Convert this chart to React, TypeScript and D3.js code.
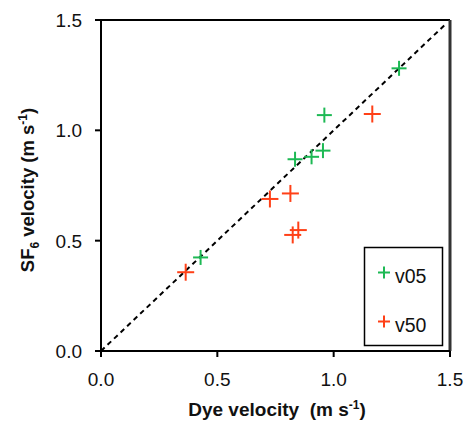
import React from "react";
import * as d3 from "d3";

const v05X = [0.428, 0.834, 0.905, 0.954, 0.96, 1.281];
const v05Y = [0.424, 0.869, 0.88, 0.908, 1.069, 1.281];
const v50X = [0.364, 0.726, 0.814, 0.824, 0.848, 1.166];
const v50Y = [0.357, 0.689, 0.714, 0.526, 0.548, 1.074];
const ticks = [0, 0.5, 1.0, 1.5];
const seriesNames = ["v05", "v50"];
const colors = ["#1db954", "#ff4017"];

export default function App() {
  const W = 467, H = 421;
  const x = d3.scaleLinear().domain([0, 1.5]).range([101, 450]);
  const y = d3.scaleLinear().domain([0, 1.5]).range([351, 20]);
  const font = "Liberation Sans, Arial, sans-serif";
  const series = [
    { xs: v05X, ys: v05Y, c: colors[0] },
    { xs: v50X, ys: v50Y, c: colors[1] },
  ];
  const cross = (cx: number, cy: number, h: number, c: string, k: string) => (
    <g key={k} stroke={c} strokeWidth={2}>
      <line x1={cx - h} x2={cx + h} y1={cy} y2={cy} />
      <line x1={cx} x2={cx} y1={cy - h} y2={cy + h} />
    </g>
  );
  const legY = [272.5, 321.5];
  return (
    <svg width={W} height={H} style={{ position: "absolute", left: 0, top: 0 }}>
      <rect width={W} height={H} fill="white" />
      <line x1={x(0)} y1={y(0)} x2={x(1.48)} y2={y(1.48)} stroke="#000" strokeWidth={2} strokeDasharray="5,4" />
      {series.map((s, si) =>
        s.xs.map((v, i) => cross(x(v), y(s.ys[i]), si === 0 ? 7.5 : 8.5, s.c, `${si}-${i}`))
      )}
      {/* frame */}
      <line x1={x(0)} x2={x(1.5)} y1={y(1.5)} y2={y(1.5)} stroke="#000" strokeWidth={2} />
      <line x1={x(1.5)} x2={x(1.5)} y1={y(1.5)} y2={y(0)} stroke="#333" strokeWidth={3} />
      <line x1={x(0)} x2={x(0)} y1={y(1.5)} y2={y(0) + 1} stroke="#000" strokeWidth={2} />
      <line x1={x(0) - 1} x2={x(1.5)} y1={y(0)} y2={y(0)} stroke="#000" strokeWidth={2} />
      {ticks.map((t) => (
        <g key={"x" + t}>
          <line x1={x(t)} x2={x(t)} y1={y(0)} y2={y(0) + 6} stroke="#000" strokeWidth={2} />
          <text x={x(t)} y={386} textAnchor="middle" fontFamily={font} fontSize={19} fill="#111">
            {t.toFixed(1)}
          </text>
        </g>
      ))}
      {ticks.map((t) => (
        <g key={"y" + t}>
          <line x1={x(0) - 6} x2={x(0)} y1={y(t)} y2={y(t)} stroke="#000" strokeWidth={2} />
          <text x={82} y={y(t) + 7} textAnchor="end" fontFamily={font} fontSize={19} fill="#111">
            {t.toFixed(1)}
          </text>
        </g>
      ))}
      <text x={277} y={416} textAnchor="middle" fontFamily={font} fontSize={19} fontWeight="bold" fill="#111" xmlSpace="preserve" style={{ whiteSpace: "pre" }}>
        {"Dye velocity  (m s"}<tspan dy={-7} fontSize={12}>-1</tspan><tspan dy={7}>)</tspan>
      </text>
      <text transform="translate(33.5,190) rotate(-90)" textAnchor="middle" fontFamily={font} fontSize={18.5} fontWeight="bold" fill="#111">
        SF<tspan dy={5} fontSize={12}>6</tspan><tspan dy={-5}> velocity (m s</tspan><tspan dy={-7} fontSize={12}>-1</tspan><tspan dy={7}>)</tspan>
      </text>
      {/* legend */}
      <rect x={364.5} y={247.5} width={78} height={98} fill="white" stroke="#000" strokeWidth={1.5} />
      {seriesNames.map((n, i) => (
        <g key={n}>
          {cross(384, legY[i], 6, colors[i], "l" + i)}
          <text x={395} y={legY[i] + 10} fontFamily={font} fontSize={19.5} fill="#111">
            {n}
          </text>
        </g>
      ))}
    </svg>
  );
}
